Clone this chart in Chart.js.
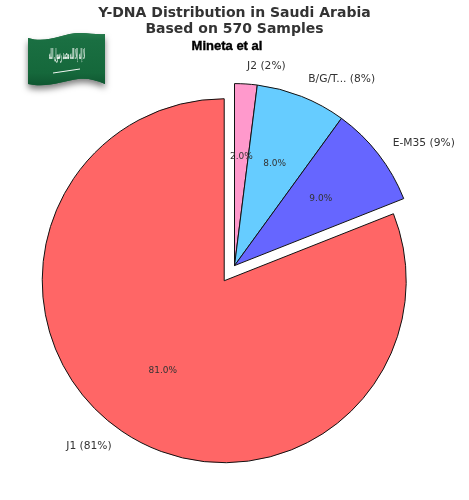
<!DOCTYPE html>
<html>
<head>
<meta charset="utf-8">
<title>Y-DNA Distribution in Saudi Arabia</title>
<script src="https://cdn.jsdelivr.net/npm/chart.js@4"></script>
<style>
  html, body { margin: 0; padding: 0; background: #fff; }
  #wrap { position: relative; width: 469px; height: 500px; }
</style>
</head>
<body>
<div id="wrap"><canvas id="pieChart" width="469" height="500"></canvas></div>
<script>
// clockwise from the top, the order Chart.js walks the circle
const categories = ['J2', 'B/G/T...', 'E-M35', 'J1'];
const shares = [2, 8, 9, 81];
const sliceColors = ['#ff99cc', '#66ccff', '#6666ff', '#ff6666'];
const exploded = [0, 0, 0, 1];
const titleLines = ['Y-DNA Distribution in Saudi Arabia', 'Based on 570 Samples'];
const subtitle = 'Mineta et al';
const flagScript = 'لا إله إلا الله محمد رسول الله';

const RADIUS = 182;
const EXPLODE = 18.3;

// offset in Chart.js also grows the slice and narrows its angle, undo both
const explodeFix = {
    id: 'explodeFix',
    afterDatasetsUpdate(chart) {
        chart.getDatasetMeta(0).data.forEach((arc, i) => {
            if (!exploded[i]) return;
            const widen = EXPLODE / (Math.PI * RADIUS) / 2;
            arc.outerRadius = RADIUS - EXPLODE;
            arc.startAngle -= widen;
            arc.endAngle += widen;
        });
    }
};

function drawFlag(ctx) {
    ctx.save();
    const shape = () => {
        ctx.beginPath();
        ctx.moveTo(28, 38);
        ctx.bezierCurveTo(48, 44, 62, 33, 80, 33);
        ctx.bezierCurveTo(90, 33, 98, 35, 105, 34);
        ctx.lineTo(105, 84);
        ctx.bezierCurveTo(96, 80, 88, 78, 78, 79);
        ctx.bezierCurveTo(62, 81, 48, 88, 28, 84);
        ctx.closePath();
    };
    ctx.save();
    ctx.shadowColor = 'rgba(0,0,0,0.5)';
    ctx.shadowBlur = 6;
    ctx.shadowOffsetY = 4;
    ctx.fillStyle = '#14673a';
    shape();
    ctx.fill();
    ctx.restore();

    const sheen = ctx.createLinearGradient(0, 34, 0, 86);
    sheen.addColorStop(0, '#23794a');
    sheen.addColorStop(0.12, '#1a6f42');
    sheen.addColorStop(0.75, '#15683b');
    sheen.addColorStop(1, '#0f5530');
    ctx.fillStyle = sheen;
    shape();
    ctx.fill();

    ctx.filter = 'blur(0.4px)';
    ctx.fillStyle = '#eef5f0';
    ctx.font = 'bold 15px "DejaVu Sans"';
    ctx.textAlign = 'center';
    ctx.textBaseline = 'middle';
    ctx.fillText(flagScript, 67, 55, 36);
    ctx.strokeStyle = '#f2f6f3';
    ctx.lineWidth = 1;
    ctx.beginPath();
    ctx.moveTo(53, 73);
    ctx.lineTo(80, 69);
    ctx.stroke();
    ctx.restore();
}

const pieText = {
    id: 'pieText',
    afterDraw(chart) {
        const ctx = chart.ctx;
        ctx.save();
        ctx.textBaseline = 'middle';
        ctx.fillStyle = '#333';
        chart.getDatasetMeta(0).data.forEach((arc, i) => {
            const mid = (arc.startAngle + arc.endAngle) / 2;
            const dx = Math.cos(mid);
            const dy = Math.sin(mid);
            const cx = arc.x + (exploded[i] ? dx * EXPLODE : 0);
            const cy = arc.y + (exploded[i] ? dy * EXPLODE : 0);
            ctx.textAlign = 'center';
            ctx.font = '9px "DejaVu Sans"';
            ctx.fillText(shares[i].toFixed(1) + '%', cx + dx * RADIUS * 0.6, cy + dy * RADIUS * 0.6);
            ctx.textAlign = dx < 0 ? 'right' : 'left';
            ctx.font = '10.7px "DejaVu Sans"';
            ctx.fillText(categories[i] + ' (' + shares[i] + '%)', cx + dx * RADIUS * 1.1, cy + dy * RADIUS * 1.1);
        });
        ctx.fillStyle = '#000';
        ctx.strokeStyle = '#000';
        ctx.lineWidth = 0.4;
        ctx.textAlign = 'center';
        ctx.font = 'bold 13px "Liberation Sans"';
        ctx.fillText(subtitle, 227, 46);
        ctx.strokeText(subtitle, 227, 46);
        drawFlag(ctx);
        ctx.restore();
    }
};

new Chart(document.getElementById('pieChart').getContext('2d'), {
    type: 'pie',
    data: {
        labels: categories,
        datasets: [{
            data: shares,
            backgroundColor: sliceColors,
            borderColor: '#111',
            borderWidth: 1,
            offset: exploded.map(e => e * EXPLODE * 4)
        }]
    },
    options: {
        responsive: false,
        animation: false,
        radius: RADIUS,
        layout: { padding: { top: 0, bottom: 6, left: 0, right: 0 } },
        plugins: {
            legend: { display: false },
            tooltip: { enabled: false },
            title: {
                display: true,
                text: titleLines,
                color: '#333',
                font: { family: '"DejaVu Sans"', size: 14, weight: 'bold', lineHeight: 1.15 },
                padding: { top: 5, bottom: 0 }
            }
        }
    },
    plugins: [explodeFix, pieText]
});
</script>
</body>
</html>
